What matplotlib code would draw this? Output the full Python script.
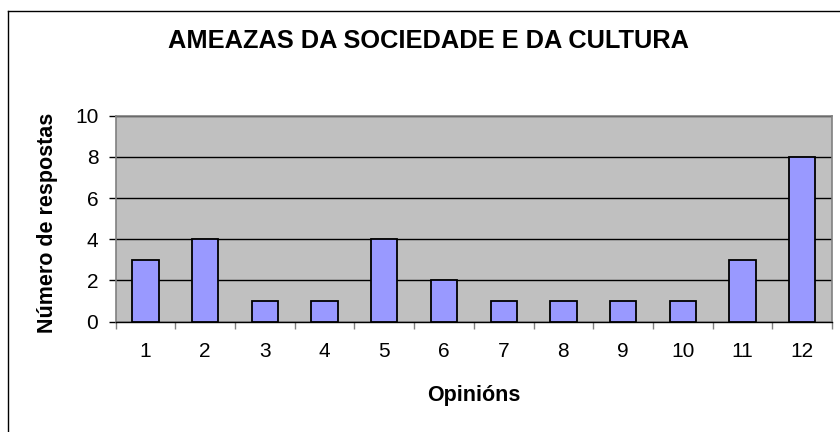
import matplotlib
matplotlib.use("Agg")
import matplotlib.pyplot as plt
from matplotlib.lines import Line2D

plt.rcParams['font.family'] = ['Liberation Sans', 'DejaVu Sans']

categories = ['1', '2', '3', '4', '5', '6', '7', '8', '9', '10', '11', '12']
values = [3, 4, 1, 1, 4, 2, 1, 1, 1, 1, 3, 8]
y_ticks = [0, 2, 4, 6, 8, 10]
title = 'AMEAZAS DA SOCIEDADE E DA CULTURA'
xlabel = 'Opinións'
ylabel = 'Número de respostas'

W, H = 840, 432
fig = plt.figure(figsize=(W / 100, H / 100), dpi=100)
L, R, T, B = 115.7, 832, 115.7, 321.5
ax = fig.add_axes([L / W, 1 - B / H, (R - L) / W, (B - T) / H])
ax.set_facecolor('#C0C0C0')

x = list(range(1, len(categories) + 1))
ax.bar(x, values, width=0.44, color='#9999FF', edgecolor='black', linewidth=1.3, zorder=3)

ax.set_xlim(0.5, len(categories) + 0.5)
ax.set_ylim(0, 10)
ax.set_yticks(y_ticks)
ax.set_yticklabels([str(v) for v in y_ticks], fontsize=15)
ax.set_xticks(x)
ax.set_xticklabels(categories, fontsize=15)
ax.set_xticks([i + 0.5 for i in range(0, len(categories) + 1)], minor=True)
ax.tick_params(axis='x', which='major', length=0, pad=15)
ax.tick_params(axis='x', which='minor', length=5, width=1, color='#808080', direction='out')
ax.tick_params(axis='y', which='major', length=5, width=1, color='#000000', pad=7.5)
ax.yaxis.grid(True, color='black', linewidth=1.0, zorder=1)
ax.set_axisbelow(True)
for s in ['left', 'top', 'right']:
    ax.spines[s].set_color('#808080')
    ax.spines[s].set_linewidth(1.2)
ax.spines['bottom'].set_color('black')
ax.spines['bottom'].set_linewidth(1.0)

fig.text(429 / W, 1 - 41 / H, title, fontsize=18.3, fontweight='bold', ha='center', va='center')
fig.text(473.5 / W, 1 - 395 / H, xlabel, fontsize=15.5, fontweight='bold', ha='center', va='center')
fig.text(48 / W, 1 - 223 / H, ylabel, fontsize=15.5, fontweight='bold', ha='center', va='center', rotation=90)

bx, by = 8 / W, 1 - 11 / H
fig.add_artist(Line2D([bx, bx], [0, by], color='black', linewidth=1.0, transform=fig.transFigure))
fig.add_artist(Line2D([bx, 1], [by, by], color='black', linewidth=1.0, transform=fig.transFigure))

fig.savefig('out.png', dpi=100)
